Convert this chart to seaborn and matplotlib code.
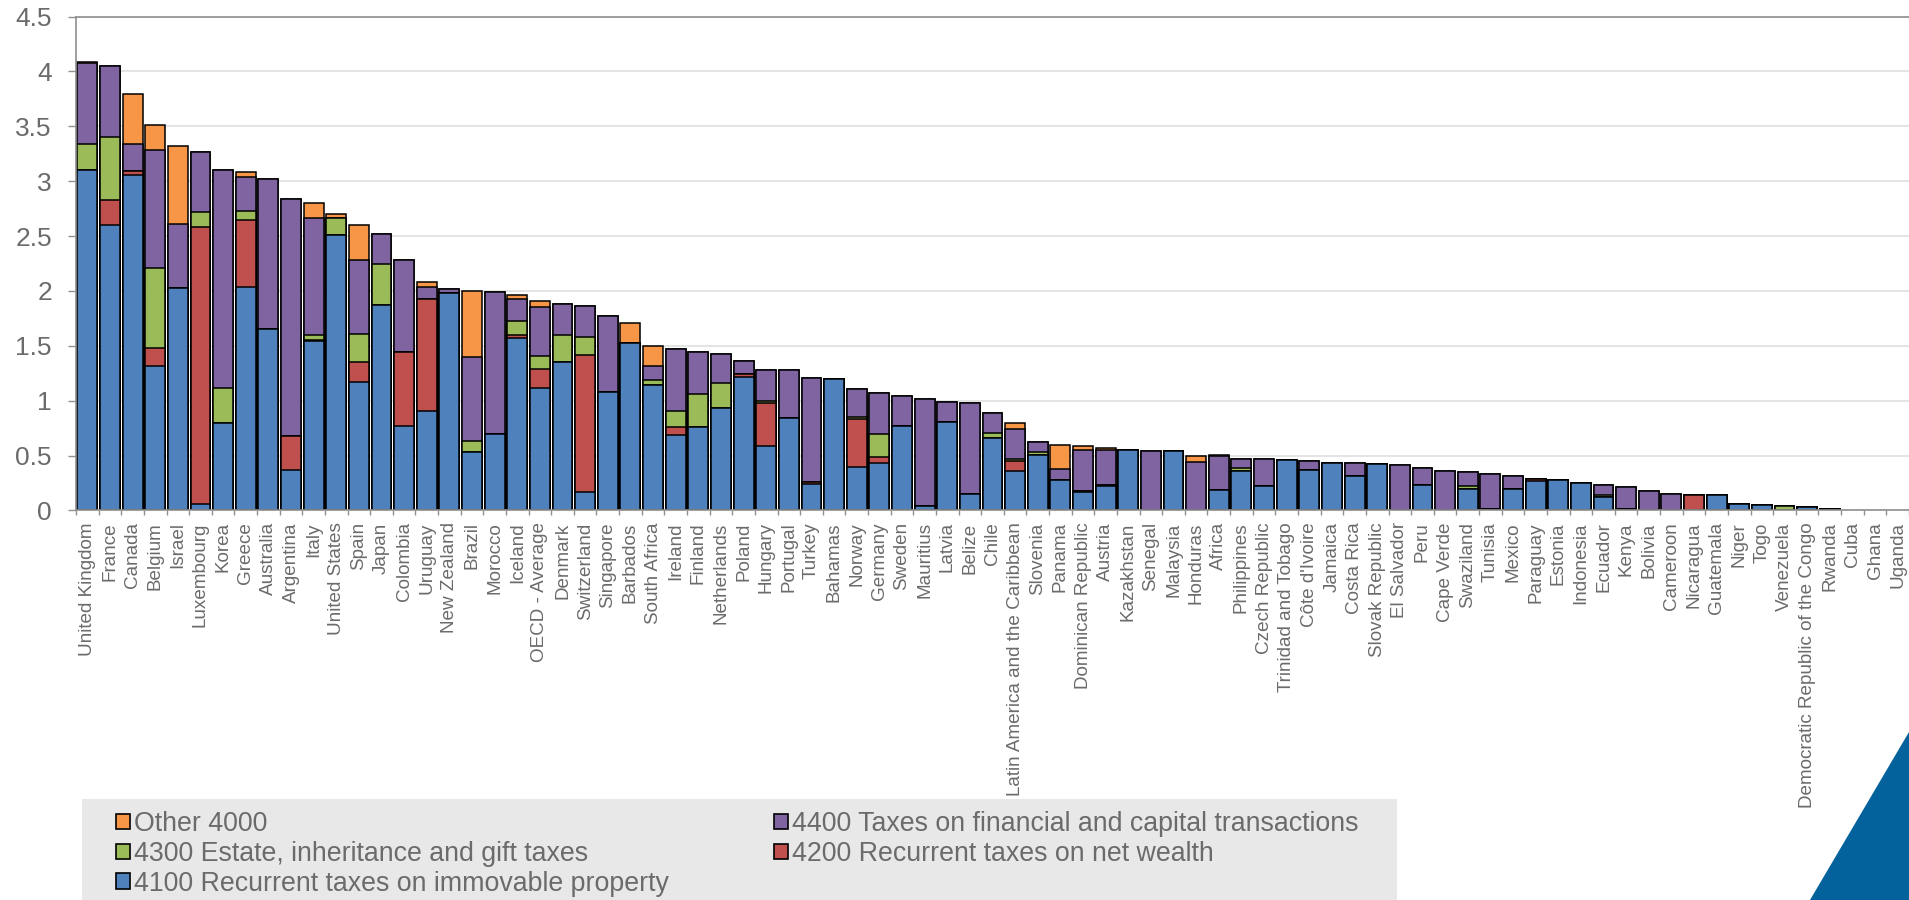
import numpy as np
import matplotlib
matplotlib.use("Agg")
import matplotlib.pyplot as plt
import seaborn as sns
from matplotlib.patches import Patch, Polygon, Rectangle
from matplotlib.ticker import FuncFormatter

# Property tax revenue as % of GDP, split by OECD tax heading
countries = [
    "United Kingdom", "France", "Canada", "Belgium", "Israel", "Luxembourg", "Korea",
    "Greece", "Australia", "Argentina", "Italy", "United States", "Spain", "Japan",
    "Colombia", "Uruguay", "New Zealand", "Brazil", "Morocco", "Iceland",
    "OECD - Average", "Denmark", "Switzerland", "Singapore", "Barbados",
    "South Africa", "Ireland", "Finland", "Netherlands", "Poland", "Hungary",
    "Portugal", "Turkey", "Bahamas", "Norway", "Germany", "Sweden", "Mauritius",
    "Latvia", "Belize", "Chile", "Latin America and the Caribbean", "Slovenia",
    "Panama", "Dominican Republic", "Austria", "Kazakhstan", "Senegal", "Malaysia",
    "Honduras", "Africa", "Philippines", "Czech Republic", "Trinidad and Tobago",
    "Côte d'Ivoire", "Jamaica", "Costa Rica", "Slovak Republic", "El Salvador",
    "Peru", "Cape Verde", "Swaziland", "Tunisia", "Mexico", "Paraguay", "Estonia",
    "Indonesia", "Ecuador", "Kenya", "Bolivia", "Cameroon", "Nicaragua",
    "Guatemala", "Niger", "Togo", "Venezuela", "Democratic Republic of the Congo",
    "Rwanda", "Cuba", "Ghana", "Uganda",
]

tax_4100 = [
    3.10, 2.60, 3.06, 1.32, 2.03, 0.06, 0.80, 2.04, 1.65, 0.37, 1.54, 2.51, 1.17, 1.87,
    0.77, 0.91, 1.98, 0.53, 0.70, 1.57, 1.12, 1.35, 0.17, 1.08, 1.53, 1.14, 0.69, 0.76,
    0.93, 1.22, 0.59, 0.84, 0.24, 1.20, 0.40, 0.43, 0.77, 0.04, 0.81, 0.15, 0.66, 0.36,
    0.51, 0.28, 0.17, 0.22, 0.55, 0.00, 0.54, 0.00, 0.19, 0.36, 0.22, 0.46, 0.37, 0.43,
    0.31, 0.42, 0.00, 0.23, 0.00, 0.20, 0.01, 0.20, 0.27, 0.28, 0.25, 0.12, 0.01, 0.00,
    0.00, 0.00, 0.14, 0.06, 0.05, 0.00, 0.03, 0.01, 0.00, 0.00, 0.00,
]
tax_4200 = [
    0.00, 0.23, 0.03, 0.16, 0.00, 2.52, 0.00, 0.61, 0.00, 0.31, 0.01, 0.00, 0.18, 0.00,
    0.67, 1.02, 0.00, 0.00, 0.00, 0.03, 0.17, 0.00, 1.25, 0.00, 0.00, 0.00, 0.07, 0.00,
    0.00, 0.02, 0.39, 0.00, 0.02, 0.00, 0.43, 0.06, 0.00, 0.00, 0.00, 0.00, 0.00, 0.09,
    0.00, 0.00, 0.01, 0.01, 0.00, 0.00, 0.00, 0.00, 0.00, 0.00, 0.00, 0.00, 0.00, 0.00,
    0.00, 0.00, 0.00, 0.00, 0.00, 0.00, 0.00, 0.00, 0.02, 0.00, 0.00, 0.00, 0.00, 0.00,
    0.00, 0.14, 0.00, 0.00, 0.00, 0.00, 0.00, 0.00, 0.00, 0.00, 0.00,
]
tax_4300 = [
    0.24, 0.57, 0.00, 0.73, 0.00, 0.14, 0.32, 0.08, 0.00, 0.00, 0.05, 0.15, 0.26, 0.38,
    0.00, 0.00, 0.00, 0.10, 0.00, 0.13, 0.12, 0.25, 0.16, 0.00, 0.00, 0.05, 0.15, 0.30,
    0.23, 0.00, 0.02, 0.00, 0.00, 0.00, 0.02, 0.21, 0.00, 0.00, 0.00, 0.00, 0.05, 0.02,
    0.02, 0.00, 0.00, 0.00, 0.00, 0.00, 0.00, 0.00, 0.00, 0.03, 0.00, 0.00, 0.00, 0.00,
    0.00, 0.00, 0.00, 0.00, 0.00, 0.02, 0.00, 0.00, 0.00, 0.00, 0.00, 0.02, 0.00, 0.00,
    0.00, 0.00, 0.00, 0.00, 0.00, 0.04, 0.00, 0.00, 0.00, 0.00, 0.00,
]
tax_4400 = [
    0.74, 0.65, 0.25, 1.07, 0.58, 0.55, 1.98, 0.31, 1.37, 2.16, 1.06, 0.00, 0.67, 0.27,
    0.84, 0.11, 0.04, 0.77, 1.29, 0.20, 0.44, 0.28, 0.28, 0.69, 0.00, 0.13, 0.56, 0.38,
    0.27, 0.12, 0.28, 0.44, 0.95, 0.00, 0.26, 0.37, 0.27, 0.98, 0.18, 0.83, 0.18, 0.27,
    0.09, 0.10, 0.37, 0.32, 0.00, 0.54, 0.00, 0.44, 0.31, 0.08, 0.25, 0.00, 0.08, 0.00,
    0.12, 0.00, 0.41, 0.16, 0.36, 0.13, 0.32, 0.11, 0.00, 0.00, 0.00, 0.09, 0.20, 0.18,
    0.15, 0.00, 0.00, 0.00, 0.00, 0.00, 0.00, 0.00, 0.00, 0.00, 0.00,
]
tax_other = [
    0.01, 0.00, 0.45, 0.23, 0.71, 0.00, 0.00, 0.04, 0.00, 0.00, 0.14, 0.04, 0.32, 0.00,
    0.00, 0.04, 0.00, 0.60, 0.00, 0.03, 0.06, 0.00, 0.00, 0.00, 0.18, 0.18, 0.00, 0.00,
    0.00, 0.00, 0.00, 0.00, 0.00, 0.00, 0.00, 0.00, 0.00, 0.00, 0.00, 0.00, 0.00, 0.06,
    0.00, 0.22, 0.04, 0.02, 0.00, 0.00, 0.00, 0.06, 0.01, 0.00, 0.00, 0.00, 0.00, 0.00,
    0.00, 0.00, 0.00, 0.00, 0.00, 0.00, 0.00, 0.00, 0.00, 0.00, 0.00, 0.00, 0.00, 0.00,
    0.00, 0.00, 0.00, 0.00, 0.00, 0.00, 0.00, 0.00, 0.00, 0.00, 0.00,
]

series_names = [
    "4100 Recurrent taxes on immovable property",
    "4200 Recurrent taxes on net wealth",
    "4300 Estate, inheritance and gift taxes",
    "4400 Taxes on financial and capital transactions",
    "Other 4000",
]
series_colors = ["#4F81BD", "#C0504D", "#9BBB59", "#8064A2", "#F79646"]

sns.set_theme(style="white")
plt.rcParams["font.family"] = ["Liberation Sans", "DejaVu Sans"]

TEXT = "#6b6b6b"
AXIS = "#8f8f8f"

W, H = 1909, 900
fig = plt.figure(figsize=(W / 100, H / 100), dpi=100)
ax = fig.add_axes([76 / W, 1 - 510.5 / H, 1 - 76 / W, (510.5 - 16.5) / H])

# Stacked bars: draw cumulative totals from the top layer down
layers = np.vstack([tax_4100, tax_4200, tax_4300, tax_4400, tax_other])
cumulative = np.cumsum(layers, axis=0)
for level in range(len(series_names) - 1, -1, -1):
    heights = np.where(cumulative[level] > 0, cumulative[level], np.nan)
    sns.barplot(
        x=countries, y=heights, order=countries, color=series_colors[level],
        saturation=1, width=0.88, edgecolor="black", linewidth=1.1,
        errorbar=None, ax=ax,
    )

ax.set_xlim(-0.5, len(countries) - 0.5)
ax.set_ylim(0, 4.5)
ax.set_xlabel("")
ax.set_ylabel("")

ax.set_yticks(np.arange(0, 4.51, 0.5))
ax.yaxis.set_major_formatter(FuncFormatter(lambda v, p: f"{v:g}"))
ax.tick_params(axis="y", length=5.8, width=1.0, color=AXIS, pad=11.5,
               labelsize=19, labelcolor=TEXT, left=True)

ax.set_xticks(range(len(countries)))
ax.set_xticklabels(countries, rotation=90, fontsize=13.6, color=TEXT)
ax.set_xticks(np.arange(-0.5, len(countries), 1.0), minor=True)
ax.tick_params(axis="x", which="major", length=0, pad=8.5)
ax.tick_params(axis="x", which="minor", length=3.6, width=1.0, color=AXIS, bottom=True)

ax.yaxis.grid(True, color="#dcdcdc", linewidth=1.1)
ax.set_axisbelow(True)
for side in ("left", "bottom", "top"):
    ax.spines[side].set_visible(True)
    ax.spines[side].set_color(AXIS)
    ax.spines[side].set_linewidth(1.2)
ax.spines["right"].set_visible(False)

# Legend panel
fig.add_artist(Rectangle((82 / W, 0), (1397 - 82) / W, 101 / H,
                         transform=fig.transFigure, facecolor="#e8e8e8",
                         edgecolor="none", zorder=0))

handles = {name: Patch(facecolor=c, edgecolor="black", linewidth=1.2)
           for name, c in zip(series_names, series_colors)}
legend_kw = dict(frameon=False, fontsize=19.3, handlelength=0.52, handleheight=0.52,
                 handletextpad=0.15, labelspacing=0.145, borderpad=0, borderaxespad=0,
                 labelcolor=TEXT, loc="upper left")
col1 = ["Other 4000", series_names[2], series_names[0]]
col2 = [series_names[3], series_names[1]]
fig.legend([handles[n] for n in col1], col1,
           bbox_to_anchor=(116 / W, 1 - 811 / H), **legend_kw)
fig.legend([handles[n] for n in col2], col2,
           bbox_to_anchor=(774 / W, 1 - 811 / H), **legend_kw)

# Corner accent
fig.add_artist(Polygon([(1810 / W, 0), (1.0, 1 - 732 / H), (1.0, 0)], closed=True,
                       transform=fig.transFigure, facecolor="#03619b",
                       edgecolor="none", zorder=1))

fig.savefig("out.png", dpi=100)
